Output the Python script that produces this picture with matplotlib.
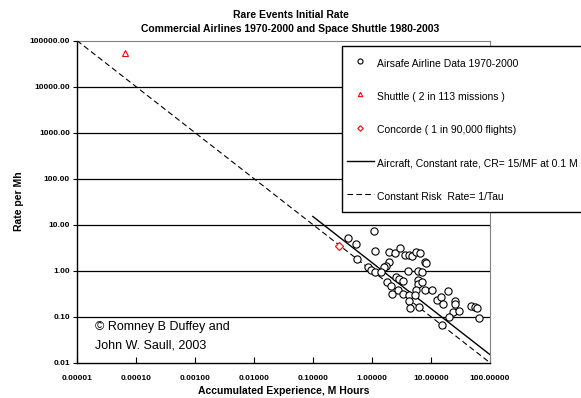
"""Rare Events Initial Rate: airlines, Shuttle, Concorde on log-log axes."""

import matplotlib
matplotlib.use("Agg")
import matplotlib.pyplot as plt
from matplotlib.patches import Rectangle
import numpy as np

plt.rcParams["font.family"] = ["Liberation Sans", "DejaVu Sans"]

# ============================================================
# Data
# ============================================================
airsafe_x = [1.08, 0.39, 0.53, 1.12, 0.57, 1.94, 2.49, 2.95, 3.62, 4.35,
             4.71, 5.66, 6.43, 8.03, 8.36, 1.94, 1.71, 1.62, 0.86, 0.95,
             1.11, 1.44, 4.14, 6.02, 7.15, 1.80, 2.59, 2.84, 3.44, 6.02,
             5.95, 7.15, 2.13, 2.76, 2.24, 3.35, 4.35, 5.50, 5.30, 7.82,
             10.6, 19.4, 4.35, 12.6, 14.6, 16.0, 25.9, 25.9, 4.41, 6.19,
             24.2, 30.6, 47.1, 56.6, 60.2, 20.7, 65.2, 15.4]
airsafe_y = [7.4, 5.1, 3.8, 2.7, 1.79, 2.54, 2.46, 3.05, 2.23, 2.15,
             2.12, 2.5, 2.41, 1.51, 1.46, 1.51, 1.24, 1.18, 1.18, 1.02,
             0.91, 0.92, 0.97, 1.0, 0.93, 0.57, 0.74, 0.67, 0.58, 0.62,
             0.51, 0.56, 0.46, 0.37, 0.31, 0.31, 0.30, 0.37, 0.30, 0.37,
             0.38, 0.36, 0.22, 0.23, 0.26, 0.19, 0.22, 0.19, 0.15, 0.16,
             0.126, 0.13, 0.17, 0.16, 0.15, 0.097, 0.091, 0.067]

shuttle_x = [6.5e-5]
shuttle_y = [5.5e4]

concorde_x = [0.275]
concorde_y = [3.5]

# Aircraft constant rate line, CR = 15/MF at 0.1 M
cr_x = [0.1, 100.0]
cr_y = [15.0, 0.015]

# Constant risk, rate = 1/tau
risk_x = [1e-5, 100.0]
risk_y = [1e5, 0.01]

x_ticks = [1e-5, 1e-4, 1e-3, 1e-2, 1e-1, 1, 10, 100]
x_tick_labels = ["0.00001", "0.00010", "0.00100", "0.01000", "0.10000",
                 "1.00000", "10.00000", "100.00000"]
y_ticks = [0.01, 0.1, 1, 10, 100, 1000, 10000, 100000]
y_tick_labels = ["0.01", "0.10", "1.00", "10.00", "100.00", "1000.00",
                 "10000.00", "100000.00"]

# ============================================================
# Figure
# ============================================================
W, H = 581, 398
fig = plt.figure(figsize=(W / 100, H / 100), dpi=100)
ax = fig.add_axes([0.1325, 0.089, 0.7105, 0.809])

ax.set_xscale("log")
ax.set_yscale("log")
ax.set_xlim(1e-5, 100)
ax.set_ylim(0.01, 1e5)

for yv in y_ticks[1:-1]:
    ax.axhline(yv, color="black", lw=0.9, zorder=1)

ax.plot(airsafe_x, airsafe_y, "o", ms=5.2, mfc="white", mec="black",
        mew=0.8, ls="none", label="Airsafe Airline Data 1970-2000", zorder=4)
ax.plot(shuttle_x, shuttle_y, "^", ms=4.5, mfc="white", mec="red",
        mew=0.8, ls="none", label="Shuttle ( 2 in 113 missions )", zorder=4)
ax.plot(concorde_x, concorde_y, "D", ms=4, mfc="white", mec="red",
        mew=0.8, ls="none", label="Concorde ( 1 in 90,000 flights)", zorder=4)
ax.plot(cr_x, cr_y, "-", color="black", lw=1.0,
        label="Aircraft, Constant rate, CR= 15/MF at 0.1 M", zorder=3)
ax.plot(risk_x, risk_y, color="black", lw=0.8, ls=(0, (5, 3)),
        label="Constant Risk  Rate= 1/Tau", zorder=3)

ax.set_xticks(x_ticks)
ax.set_xticklabels(x_tick_labels, fontsize=6, fontweight="bold")
ax.set_yticks(y_ticks)
ax.set_yticklabels(y_tick_labels, fontsize=6, fontweight="bold")
ax.minorticks_off()
ax.tick_params(axis="x", direction="in", length=4, width=0.8, pad=9)
ax.tick_params(axis="y", direction="out", length=3, width=0.8, pad=2)

ax.spines["left"].set_linewidth(1.0)
ax.spines["bottom"].set_linewidth(1.0)
ax.spines["top"].set_color("#808080")
ax.spines["right"].set_color("#808080")
ax.spines["top"].set_linewidth(0.8)
ax.spines["right"].set_linewidth(0.8)

ax.set_xlabel("Accumulated Experience, M Hours", fontsize=7.5,
              fontweight="bold")
ax.xaxis.set_label_coords(0.5, (362.5 - 386) / 322)
ax.set_ylabel("Rate per Mh", fontsize=7.5, fontweight="bold")
ax.yaxis.set_label_coords((24 - 77) / 413, 0.5)

fig.text(0.5, 1 - 15 / H, "Rare Events Initial Rate", ha="center",
         va="center", fontsize=7.5, fontweight="bold")
fig.text(0.5, 1 - 29 / H,
         "Commercial Airlines 1970-2000 and Space Shuttle 1980-2003",
         ha="center", va="center", fontsize=7.5, fontweight="bold")

ax.text(95 / W, 1 - 327 / H, "© Romney B Duffey and",
        transform=fig.transFigure, fontsize=9, va="center", ha="left")
ax.text(95 / W, 1 - 345 / H, "John W. Saull, 2003",
        transform=fig.transFigure, fontsize=9, va="center", ha="left")

# legend box (runs off the right edge like the original)
box = Rectangle((342 / W, 1 - 212 / H), 250 / W, 166 / H,
                transform=fig.transFigure, facecolor="white",
                edgecolor="black", lw=1.0, clip_on=False, zorder=5)
ax.add_patch(box)

leg = ax.legend(loc="upper left", bbox_to_anchor=(342 / W, 1 - 50.7 / H),
                bbox_transform=fig.transFigure, fontsize=7.5, frameon=False,
                borderaxespad=0, labelspacing=1.65,
                handlelength=2.6, handleheight=2.0, handletextpad=0.3,
                borderpad=0.45, markerscale=0.7)
leg.set_zorder(6)

fig.savefig("out.png", dpi=100)
